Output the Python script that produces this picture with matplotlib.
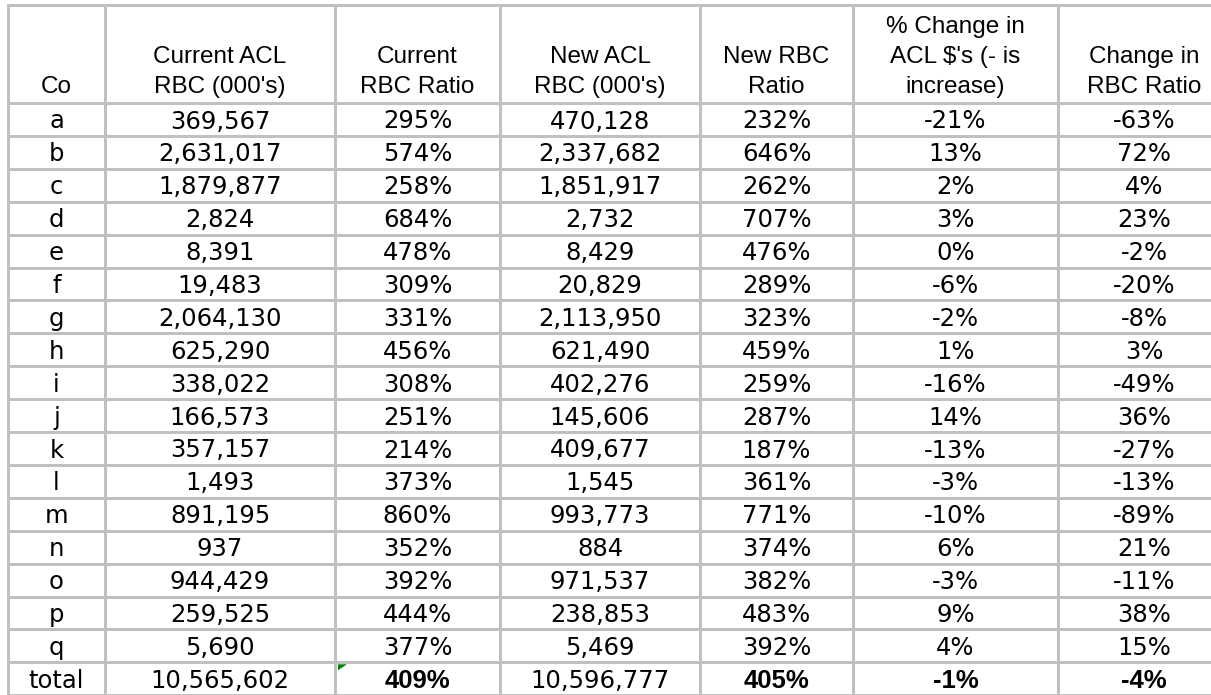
import matplotlib.pyplot as plt
from matplotlib.patches import Polygon

plt.rcParams['font.family'] = ['Liberation Sans', 'DejaVu Sans']

# table data
companies = list('abcdefghijklmnopq') + ['total']
current_acl = [369567, 2631017, 1879877, 2824, 8391, 19483, 2064130, 625290, 338022,
               166573, 357157, 1493, 891195, 937, 944429, 259525, 5690, 10565602]
current_ratio = [295, 574, 258, 684, 478, 309, 331, 456, 308, 251, 214, 373, 860, 352,
                 392, 444, 377, 409]
new_acl = [470128, 2337682, 1851917, 2732, 8429, 20829, 2113950, 621490, 402276,
           145606, 409677, 1545, 993773, 884, 971537, 238853, 5469, 10596777]
new_ratio = [232, 646, 262, 707, 476, 289, 323, 459, 259, 287, 187, 361, 771, 374,
             382, 483, 392, 405]
pct_change_acl = [-21, 13, 2, 3, 0, -6, -2, 1, -16, 14, -13, -3, -10, 6, -3, 9, 4, -1]
change_ratio = [-63, 72, 4, 23, -2, -20, -8, 3, -49, 36, -27, -13, -89, 21, -11, 38, 15, -4]

headers = ["Co", "Current ACL\nRBC (000's)", "Current\nRBC Ratio", "New ACL\nRBC (000's)",
           "New RBC\nRatio", "% Change in\nACL $'s (- is\nincrease)", "Change in\nRBC Ratio"]

# layout in pixels
W, H = 1211, 695
col_edges = [8, 105, 335, 500, 700, 853, 1058, 1230]
top = 5
header_bottom = 103
row_h = 32.9
grid_color = '#c0c0c0'
lw = 3 * 72 / 100
fs = 17.5

fig = plt.figure(figsize=(W / 100, H / 100), dpi=100)
ax = fig.add_axes([0, 0, 1, 1])
ax.set_xlim(0, W)
ax.set_ylim(H, 0)
ax.axis('off')

n_rows = len(companies)
row_lines = [top, header_bottom] + [header_bottom + row_h * (i + 1) for i in range(n_rows)]
ax.hlines(row_lines, col_edges[0] - 1.5, W, colors=grid_color, linewidth=lw)
ax.vlines(col_edges[:-1], top - 1.5, H, colors=grid_color, linewidth=lw)

centers = [(col_edges[i] + col_edges[i + 1]) / 2 for i in range(len(col_edges) - 1)]

# headers, bottom-aligned lines
for cx, h in zip(centers, headers):
    lines = h.split('\n')
    for k, line in enumerate(reversed(lines)):
        ax.text(cx, 93 - 30 * k, line, ha='center', va='baseline', fontsize=fs)

bold_cols = {2, 4, 5, 6}
for i in range(n_rows):
    cells = [companies[i], f"{current_acl[i]:,}", f"{current_ratio[i]}%", f"{new_acl[i]:,}",
             f"{new_ratio[i]}%", f"{pct_change_acl[i]}%", f"{change_ratio[i]}%"]
    base = header_bottom + row_h * i + 25.5
    is_total = companies[i] == 'total'
    for j, (cx, s) in enumerate(zip(centers, cells)):
        if is_total and j in bold_cols:
            ax.text(cx, base, s, ha='center', va='baseline', fontsize=18.5, fontweight='bold')
        else:
            ax.text(cx, base, s, ha='center', va='baseline', fontsize=fs,
                    family=['DejaVu Sans'])

# small green indicator in the total row
y0 = header_bottom + row_h * (n_rows - 1) + 2
x0 = col_edges[2] + 3
ax.add_patch(Polygon([[x0, y0], [x0 + 9, y0], [x0, y0 + 6]], closed=True,
                     facecolor='#008000', edgecolor='none'))

fig.savefig('out.png', dpi=100)
